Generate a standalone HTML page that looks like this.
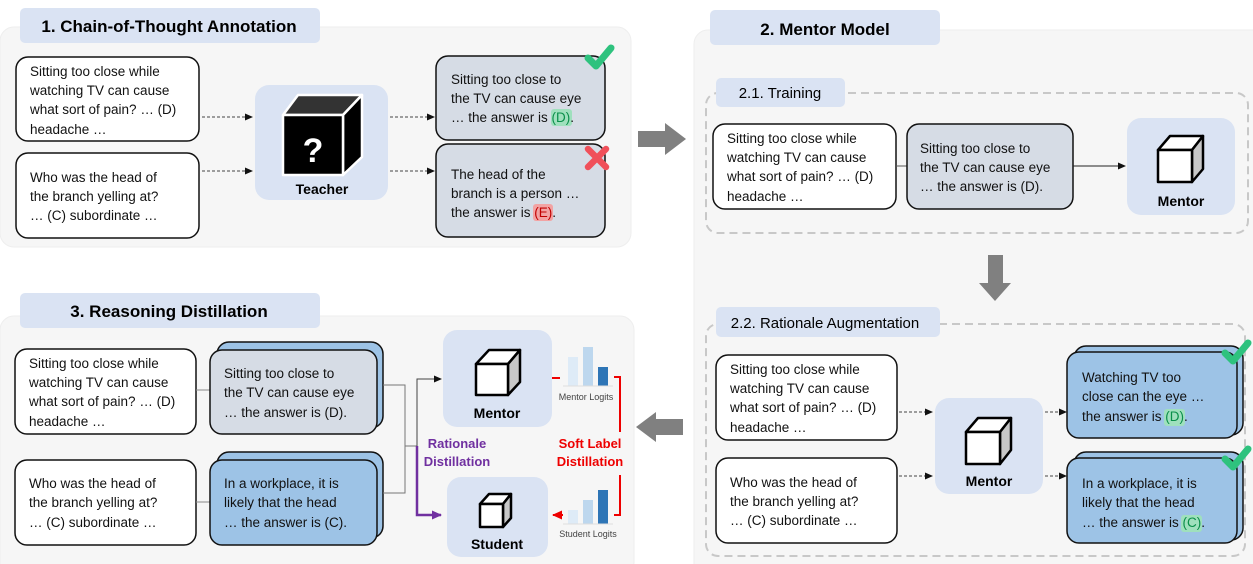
<!DOCTYPE html>
<html><head><meta charset="utf-8"><style>
html,body{margin:0;padding:0;background:#fff;}
svg{display:block;}
text{font-family:"Liberation Sans",sans-serif;}
.t{font-size:13.5px;fill:#111;}
.b{font-weight:bold;}
.wb{fill:#fff;stroke:#111;stroke-width:1.5;}
.gb{fill:#d6dce5;stroke:#111;stroke-width:1.5;}
.bb{fill:#9dc3e6;stroke:#111;stroke-width:1.5;}
.mb{fill:#dae3f3;}
.da{stroke:#444;stroke-width:1;stroke-dasharray:3,2;fill:none;}
</style></head><body>
<svg width="1253" height="564" viewBox="0 0 1253 564" xmlns="http://www.w3.org/2000/svg">
<defs>
<marker id="ah" markerWidth="8" markerHeight="8" refX="7" refY="4" orient="auto" markerUnits="userSpaceOnUse"><path d="M0,0.5 L8,4 L0,7.5z" fill="#111"/></marker>
<marker id="ap" markerWidth="10" markerHeight="10" refX="9" refY="5" orient="auto" markerUnits="userSpaceOnUse"><path d="M0,0.5 L10,5 L0,9.5z" fill="#7030a0"/></marker>
<marker id="ar" markerWidth="10" markerHeight="10" refX="9" refY="5" orient="auto" markerUnits="userSpaceOnUse"><path d="M0,0.5 L10,5 L0,9.5z" fill="#e00"/></marker>
</defs>

<rect x="0" y="27" width="631" height="220" rx="14" fill="#f6f6f6" stroke="#eee"/>
<rect x="694" y="30" width="575" height="550" rx="14" fill="#f6f6f6" stroke="#eee"/>
<rect x="0" y="316" width="634" height="260" rx="14" fill="#f6f6f6" stroke="#eee"/>

<rect x="20" y="8" width="300" height="35" rx="5" class="mb"/>
<text x="169" y="32" text-anchor="middle" class="b" font-size="17">1. Chain-of-Thought Annotation</text>

<rect x="16" y="57" width="183" height="84" rx="12" class="wb"/>
<text class="t" x="30" y="76">Sitting too close while</text>
<text class="t" x="30" y="95">watching TV can cause</text>
<text class="t" x="30" y="114">what sort of pain? … (D)</text>
<text class="t" x="30" y="134">headache …</text>

<rect x="16" y="153" width="183" height="85" rx="12" class="wb"/>
<text class="t" x="30" y="182">Who was the head of</text>
<text class="t" x="30" y="201">the branch yelling at?</text>
<text class="t" x="30" y="220">… (C) subordinate …</text>

<rect x="255" y="85" width="133" height="115" rx="14" class="mb"/>
<g stroke="#fff" stroke-width="2.5" stroke-linejoin="round">
<path d="M283,115 L298,95 L362,95 L343,115 Z" fill="#333"/>
<path d="M343,115 L362,95 L362,157 L343,175 Z" fill="#000"/>
<rect x="283" y="115" width="60" height="60" fill="#000"/>
</g>
<text x="313" y="162" text-anchor="middle" font-size="34" font-weight="bold" fill="#fff">?</text>
<text x="322" y="194" text-anchor="middle" class="b" font-size="14">Teacher</text>

<line x1="202" y1="117" x2="252" y2="117" class="da" marker-end="url(#ah)"/>
<line x1="202" y1="171" x2="252" y2="171" class="da" marker-end="url(#ah)"/>
<line x1="390" y1="117" x2="434" y2="117" class="da" marker-end="url(#ah)"/>
<line x1="390" y1="171" x2="434" y2="171" class="da" marker-end="url(#ah)"/>

<rect x="436" y="56" width="169" height="84" rx="12" class="gb"/>
<rect x="551" y="109" width="21" height="17" rx="3" fill="#9fe0bd"/>
<text class="t" x="451" y="84">Sitting too close to</text>
<text class="t" x="451" y="103">the TV can cause eye</text>
<text class="t" x="451" y="122">… the answer is <tspan fill="#0a8f4a">(D)</tspan>.</text>

<rect x="436" y="144" width="169" height="93" rx="12" class="gb"/>
<rect x="533" y="204" width="20" height="17" rx="3" fill="#f2a3a3"/>
<text class="t" x="451" y="179">The head of the</text>
<text class="t" x="451" y="198">branch is a person …</text>
<text class="t" x="451" y="217">the answer is <tspan fill="#c00000">(E)</tspan>.</text>

<path d="M588,58 L596,66 L611,48" stroke="#2ec27e" stroke-width="7" fill="none" stroke-linecap="round" stroke-linejoin="round"/>
<path d="M588,149 L606,167 M606,149 L588,167" stroke="#f0505a" stroke-width="6.5" stroke-linecap="round"/>

<path d="M638,131 L665,131 L665,123 L686,139 L665,155 L665,147 L638,147 Z" fill="#808080"/>
<path d="M683,419 L656,419 L656,412 L636,427 L656,442 L656,435 L683,435 Z" fill="#808080"/>
<path d="M988,255 L1003,255 L1003,283 L1011,283 L995,301 L979,283 L988,283 Z" fill="#808080"/>

<rect x="710" y="10" width="230" height="35" rx="5" class="mb"/>
<text x="825" y="35" text-anchor="middle" class="b" font-size="17">2. Mentor Model</text>

<rect x="706" y="93" width="542" height="140" rx="12" fill="none" stroke="#c8c8c8" stroke-width="2" stroke-dasharray="8,5"/>
<rect x="716" y="78" width="129" height="29" rx="5" class="mb"/>
<text x="780" y="98" text-anchor="middle" font-size="15">2.1. Training</text>

<rect x="713" y="124" width="183" height="85" rx="12" class="wb"/>
<text class="t" x="727" y="143">Sitting too close while</text>
<text class="t" x="727" y="162">watching TV can cause</text>
<text class="t" x="727" y="181">what sort of pain? … (D)</text>
<text class="t" x="727" y="201">headache …</text>
<line x1="896" y1="166" x2="907" y2="166" stroke="#555"/>
<rect x="907" y="124" width="166" height="85" rx="12" class="gb"/>
<text class="t" x="920" y="153">Sitting too close to</text>
<text class="t" x="920" y="172">the TV can cause eye</text>
<text class="t" x="920" y="191">… the answer is (D).</text>
<line x1="1073" y1="166" x2="1125" y2="166" stroke="#222" marker-end="url(#ah)"/>

<rect x="1127" y="118" width="108" height="97" rx="14" class="mb"/>
<g stroke="#000" stroke-width="2.5" stroke-linejoin="round">
<path d="M1158,150 L1170,136 L1203,136 L1192,150 Z" fill="#fff"/>
<path d="M1192,150 L1203,136 L1203,169 L1192,182 Z" fill="#c8c8c8"/>
<rect x="1158" y="150" width="34" height="32" fill="#fff"/>
</g>
<text x="1181" y="206" text-anchor="middle" class="b" font-size="14">Mentor</text>

<rect x="706" y="324" width="539" height="232" rx="12" fill="none" stroke="#c8c8c8" stroke-width="2" stroke-dasharray="8,5"/>
<rect x="716" y="307" width="224" height="30" rx="5" class="mb"/>
<text x="825" y="328" text-anchor="middle" font-size="15">2.2. Rationale Augmentation</text>

<rect x="716" y="355" width="181" height="85" rx="12" class="wb"/>
<text class="t" x="730" y="374">Sitting too close while</text>
<text class="t" x="730" y="393">watching TV can cause</text>
<text class="t" x="730" y="412">what sort of pain? … (D)</text>
<text class="t" x="730" y="432">headache …</text>
<rect x="716" y="458" width="181" height="85" rx="12" class="wb"/>
<text class="t" x="730" y="487">Who was the head of</text>
<text class="t" x="730" y="506">the branch yelling at?</text>
<text class="t" x="730" y="525">… (C) subordinate …</text>

<line x1="899" y1="412" x2="932" y2="412" class="da" marker-end="url(#ah)"/>
<line x1="899" y1="476" x2="932" y2="476" class="da" marker-end="url(#ah)"/>

<rect x="935" y="398" width="108" height="96" rx="14" class="mb"/>
<g stroke="#000" stroke-width="2.5" stroke-linejoin="round">
<path d="M966,432 L978,418 L1011,418 L1000,432 Z" fill="#fff"/>
<path d="M1000,432 L1011,418 L1011,450 L1000,464 Z" fill="#c8c8c8"/>
<rect x="966" y="432" width="34" height="32" fill="#fff"/>
</g>
<text x="989" y="486" text-anchor="middle" class="b" font-size="14">Mentor</text>

<line x1="1045" y1="412" x2="1066" y2="412" class="da" marker-end="url(#ah)"/>
<line x1="1045" y1="476" x2="1066" y2="476" class="da" marker-end="url(#ah)"/>

<rect x="1074" y="346" width="169" height="89" rx="12" class="bb"/>
<rect x="1067" y="352" width="170" height="86" rx="12" class="bb"/>
<rect x="1164" y="409" width="21" height="17" rx="3" fill="#9fe0bd"/>
<text class="t" x="1082" y="382">Watching TV too</text>
<text class="t" x="1082" y="401">close can the eye …</text>
<text class="t" x="1082" y="421">the answer is <tspan fill="#0a8f4a">(D)</tspan>.</text>

<rect x="1074" y="452" width="169" height="88" rx="12" class="bb"/>
<rect x="1067" y="458" width="170" height="85" rx="12" class="bb"/>
<rect x="1181" y="515" width="21" height="17" rx="3" fill="#9fe0bd"/>
<text class="t" x="1082" y="488">In a workplace, it is</text>
<text class="t" x="1082" y="507">likely that the head</text>
<text class="t" x="1082" y="527">… the answer is <tspan fill="#0a8f4a">(C)</tspan>.</text>

<path d="M1225,353 L1233,361 L1248,343" stroke="#2ec27e" stroke-width="7" fill="none" stroke-linecap="round" stroke-linejoin="round"/>
<path d="M1225,459 L1233,467 L1248,449" stroke="#2ec27e" stroke-width="7" fill="none" stroke-linecap="round" stroke-linejoin="round"/>

<rect x="20" y="293" width="300" height="35" rx="5" class="mb"/>
<text x="169" y="317" text-anchor="middle" class="b" font-size="17">3. Reasoning Distillation</text>

<rect x="15" y="349" width="181" height="85" rx="12" class="wb"/>
<text class="t" x="29" y="368">Sitting too close while</text>
<text class="t" x="29" y="387">watching TV can cause</text>
<text class="t" x="29" y="406">what sort of pain? … (D)</text>
<text class="t" x="29" y="426">headache …</text>
<rect x="15" y="460" width="181" height="85" rx="12" class="wb"/>
<text class="t" x="29" y="488">Who was the head of</text>
<text class="t" x="29" y="507">the branch yelling at?</text>
<text class="t" x="29" y="527">… (C) subordinate …</text>
<line x1="196" y1="390" x2="210" y2="390" stroke="#888"/>
<line x1="196" y1="502" x2="210" y2="502" stroke="#888"/>

<rect x="217" y="342" width="166" height="86" rx="12" class="bb"/>
<rect x="210" y="350" width="167" height="84" rx="12" class="gb"/>
<text class="t" x="224" y="378">Sitting too close to</text>
<text class="t" x="224" y="397">the TV can cause eye</text>
<text class="t" x="224" y="417">… the answer is (D).</text>
<rect x="217" y="452" width="166" height="86" rx="12" class="bb"/>
<rect x="210" y="460" width="167" height="85" rx="12" class="bb"/>
<text class="t" x="224" y="488">In a workplace, it is</text>
<text class="t" x="224" y="507">likely that the head</text>
<text class="t" x="224" y="527">… the answer is (C).</text>

<path d="M383,385 L405,385 L405,493 L383,493 M405,446 L417,446" stroke="#777" fill="none"/>
<path d="M417,446 L417,379 L441,379" stroke="#444" fill="none" marker-end="url(#ah)"/>
<path d="M417,446 L417,515 L441,515" stroke="#7030a0" stroke-width="2.5" fill="none" marker-end="url(#ap)"/>
<text x="457" y="448" text-anchor="middle" class="b" font-size="13" fill="#7030a0">Rationale</text>
<text x="457" y="466" text-anchor="middle" class="b" font-size="13" fill="#7030a0">Distillation</text>

<rect x="443" y="330" width="109" height="97" rx="14" class="mb"/>
<g stroke="#000" stroke-width="2.5" stroke-linejoin="round">
<path d="M476,364 L489,350 L520,350 L508,364 Z" fill="#fff"/>
<path d="M508,364 L520,350 L520,382 L508,395 Z" fill="#c8c8c8"/>
<rect x="476" y="364" width="32" height="31" fill="#fff"/>
</g>
<text x="497" y="418" text-anchor="middle" class="b" font-size="14">Mentor</text>

<rect x="447" y="477" width="101" height="80" rx="14" class="mb"/>
<g stroke="#000" stroke-width="2.5" stroke-linejoin="round">
<path d="M480,504 L489,494 L511,494 L503,504 Z" fill="#fff"/>
<path d="M503,504 L511,494 L511,518 L503,527 Z" fill="#c8c8c8"/>
<rect x="480" y="504" width="23" height="23" fill="#fff"/>
</g>
<text x="497" y="549" text-anchor="middle" class="b" font-size="14">Student</text>

<rect x="568" y="357" width="10" height="29" fill="#deebf7"/>
<rect x="583" y="347" width="10" height="39" fill="#bdd7ee"/>
<rect x="598" y="367" width="10" height="19" fill="#2e75b6"/>
<line x1="563" y1="386" x2="613" y2="386" stroke="#ddd"/>
<text x="586" y="400" text-anchor="middle" font-size="9" fill="#444">Mentor Logits</text>
<rect x="568" y="510" width="10" height="14" fill="#deebf7"/>
<rect x="583" y="500" width="10" height="24" fill="#bdd7ee"/>
<rect x="598" y="490" width="10" height="34" fill="#2e75b6"/>
<line x1="563" y1="524" x2="613" y2="524" stroke="#ddd"/>
<text x="588" y="537" text-anchor="middle" font-size="9" fill="#444">Student Logits</text>

<line x1="552" y1="378" x2="560" y2="378" stroke="#e00" stroke-width="2"/>
<path d="M614,377 L620,377 L620,432 M620,475 L620,515 L614,515" stroke="#e00" stroke-width="2" fill="none"/>
<line x1="563" y1="515" x2="553" y2="515" stroke="#e00" stroke-width="2" marker-end="url(#ar)"/>
<text x="590" y="448" text-anchor="middle" class="b" font-size="13" fill="#e00">Soft Label</text>
<text x="590" y="466" text-anchor="middle" class="b" font-size="13" fill="#e00">Distillation</text>
</svg>
</body></html>
